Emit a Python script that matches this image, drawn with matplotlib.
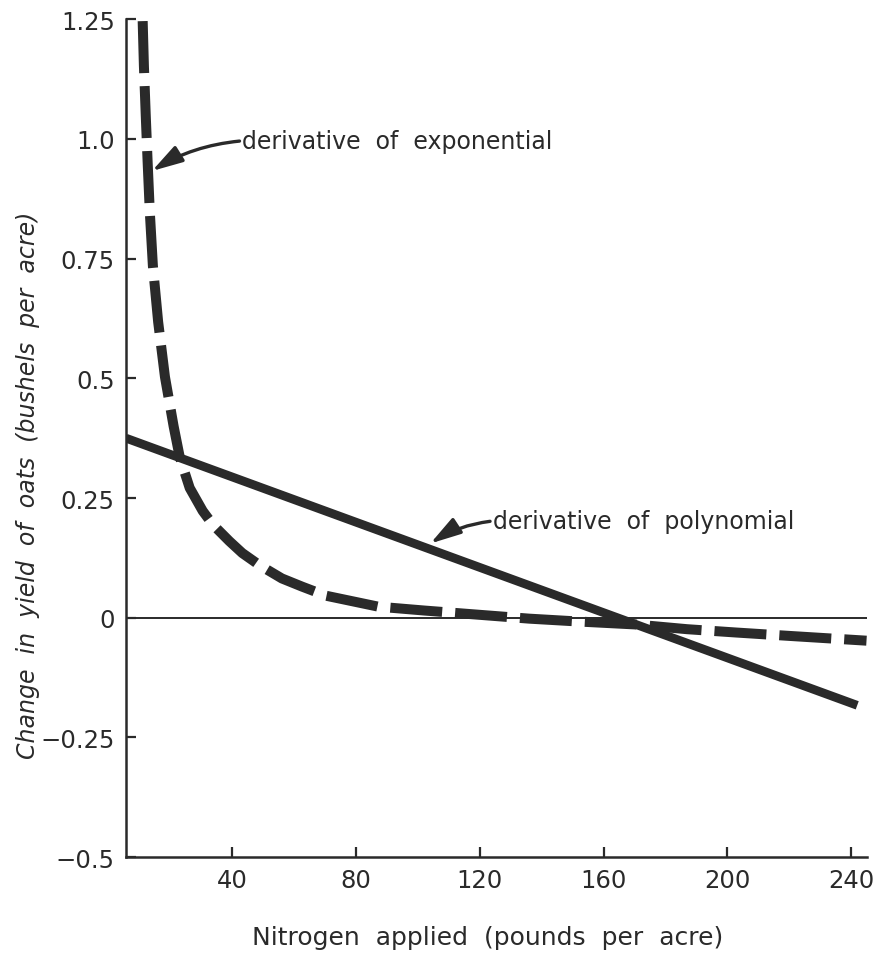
import matplotlib
matplotlib.use("Agg")
import matplotlib.pyplot as plt

# values
exp_x = [11.0, 11.4, 12.0, 12.6, 13.3, 14.3, 16.0, 18.2, 21.0, 23.0, 26.2, 30.4, 33.6, 39.0,
         43.2, 48.7, 56.0, 62.5, 70.2, 87.2, 102, 120, 136, 152, 170, 187, 203, 220, 245]
exp_y = [1.246, 1.152, 1.048, 0.952, 0.848, 0.735, 0.618, 0.503, 0.40, 0.335, 0.271, 0.223, 0.195, 0.160,
         0.135, 0.110, 0.082, 0.065, 0.046, 0.023, 0.015, 0.006, -0.002, -0.008, -0.014, -0.024, -0.031, -0.038, -0.048]
poly_x = [5.6, 242]
poly_y = [0.375, -0.183]

xticks = [40, 80, 120, 160, 200, 240]
yticks = [-0.5, -0.25, 0, 0.25, 0.5, 0.75, 1.0, 1.25]
ylabels = ["\u22120.5", "\u22120.25", "0", "0.25", "0.5", "0.75", "1.0", "1.25"]

ink = "#2a2a2a"
plt.rcParams['font.family'] = ['DejaVu Sans']

fig = plt.figure(figsize=(8.89, 9.62), dpi=100)
ax = fig.add_axes([0.1417, 0.108, 0.833, 0.871])

ax.axhline(0, color=ink, lw=1.4, zorder=1)
ax.plot(poly_x, poly_y, color=ink, lw=6.3, solid_capstyle="butt", zorder=2)
ax.plot(exp_x, exp_y, color=ink, lw=7.2, dashes=(5.2, 1.3),
        dash_capstyle="butt", zorder=3)

arrow = dict(arrowstyle="-|>,head_length=1.1,head_width=0.32", color=ink, lw=2.4,
             connectionstyle="arc3,rad=0.12", relpos=(0, 0.5), shrinkA=0, shrinkB=0)
ax.annotate("derivative  of  exponential", xy=(14.0, 0.933), xytext=(43.2, 0.996),
            fontsize=17, color=ink, ha="left", va="center", arrowprops=arrow)
ax.annotate("derivative  of  polynomial", xy=(104, 0.155), xytext=(124.2, 0.202),
            fontsize=17, color=ink, ha="left", va="center", arrowprops=arrow)

ax.set_xlim(5.6, 245)
ax.set_ylim(-0.5, 1.25)
ax.set_xticks(xticks)
ax.set_xticklabels([str(t) for t in xticks])
ax.set_yticks(yticks)
ax.set_yticklabels(ylabels)

for s in ["top", "right"]:
    ax.spines[s].set_visible(False)
for s in ["left", "bottom"]:
    ax.spines[s].set_linewidth(1.8)
    ax.spines[s].set_color(ink)
ax.tick_params(direction="in", length=7, width=1.6, color=ink, labelsize=17.5,
               labelcolor=ink, pad=8)

fig.text(0.548, 0.012, "Nitrogen  applied  (pounds  per  acre)", fontsize=18,
         color=ink, ha="center", va="bottom")
fig.text(0.032, 0.496, "Change  in  yield  of  oats  (bushels  per  acre)", fontsize=17,
         style="italic", color=ink, ha="center", va="center", rotation=90)

fig.savefig("out.png", dpi=100)
